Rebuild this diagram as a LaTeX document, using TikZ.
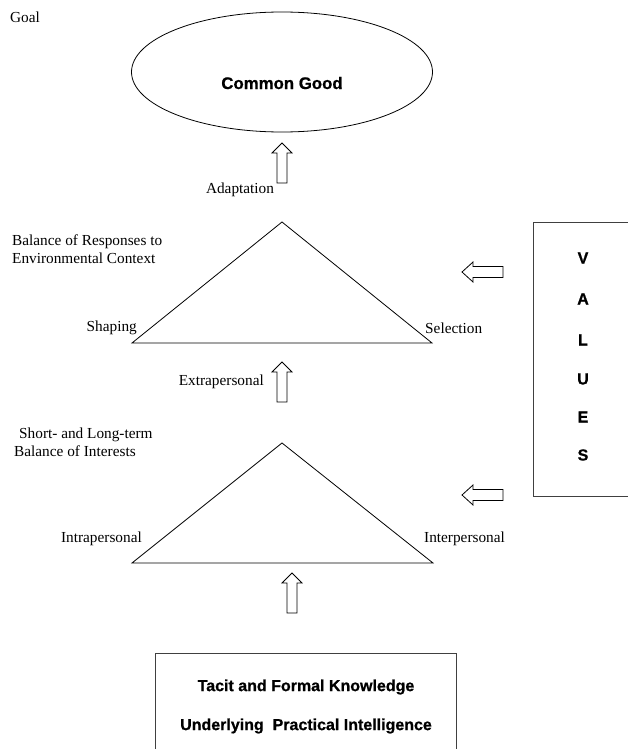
\documentclass[tikz,border=0pt]{standalone}
\usepackage{fontspec}
\setmainfont{Liberation Serif}
\setsansfont{Liberation Sans}
\newfontfamily\heavysans[FakeBold=0.8]{Liberation Sans Bold}
\usetikzlibrary{shapes.geometric}
\begin{document}
\begin{tikzpicture}[x=1pt,y=-1pt,
  lbl/.style={font=\fontsize{15.3}{18}\selectfont, inner sep=0pt},
  bsans/.style={font=\heavysans\fontsize{16}{19}\selectfont, inner sep=0pt},
  shapeline/.style={draw=black, line width=0.8pt},
  boxline/.style={draw=black!75, line width=1.1pt},
  blockarrow/.style={draw=black, line width=0.8pt, fill=white},
  uparr/.pic={\draw[blockarrow] (-5,40) -- (-5,10) -- (-10,10) -- (0,0) -- (10,10) -- (5,10) -- (5,40) -- cycle;},
  leftarr/.pic={\draw[blockarrow] (41,-5.5) -- (11,-5.5) -- (11,-10) -- (0,0) -- (11,10) -- (11,5.5) -- (41,5.5) -- cycle;}
]
\useasboundingbox (0,0) rectangle (627,749);
\fill[white] (0,0) rectangle (627,749);

% goal ellipse
\node[shapeline, ellipse, minimum width=301pt, minimum height=120pt, inner sep=0pt] (goal) at (282,72) {};
\node[bsans, font=\heavysans\fontsize{16.8}{20}\selectfont] (cg) at (282,83) {Common Good};
\node[lbl, anchor=west] (goallbl) at (10,17) {Goal};

% adaptation arrow
\pic (adapt) at (282,143) {uparr};
\node[lbl] (adaptlbl) at (240,190) {Adaptation};

% top triangle
\coordinate (t1a) at (282,222);
\coordinate (t1l) at (132,343);
\coordinate (t1r) at (432,343);
\draw[shapeline] (t1a) -- (t1l) -- (t1r) -- cycle;
\node[lbl, anchor=west, align=left] (resp) at (12,249) {Balance of Responses to\\Environmental Context};
\node[lbl, anchor=east] (shaping) at (137,328) {Shaping};
\node[lbl, anchor=west] (selection) at (425,328) {Selection};

% extrapersonal arrow
\pic (extra) at (282,362) {uparr};
\node[lbl, anchor=east] (extralbl) at (264,382) {Extrapersonal};

% bottom triangle
\coordinate (t2a) at (282,443);
\coordinate (t2l) at (132,563);
\coordinate (t2r) at (433,563);
\draw[shapeline] (t2a) -- (t2l) -- (t2r) -- cycle;
\node[lbl, anchor=west, align=left] (interests) at (14,442) {\hspace{5pt}Short- and Long-term\\Balance of Interests};
\node[lbl, anchor=east] (intra) at (142,539) {Intrapersonal};
\node[lbl, anchor=west] (inter) at (424,539) {Interpersonal};

% bottom arrow
\pic (base) at (292,573) {uparr};

% values arrows
\pic (v1) at (462,272) {leftarr};
\pic (v2) at (462,495) {leftarr};

% values box
\node[boxline, anchor=north west, minimum width=110pt, minimum height=274pt, inner sep=0pt] (values) at (533,222) {};
\node[bsans] (lv) at (583,258) {V};
\node[bsans] (la) at (583,299) {A};
\node[bsans] (ll) at (583,340) {L};
\node[bsans] (lu) at (583,379) {U};
\node[bsans] (le) at (583,417) {E};
\node[bsans] (ls) at (583,455) {S};

% knowledge box
\node[boxline, anchor=north west, minimum width=301pt, minimum height=120pt, inner sep=0pt] (know) at (155,653) {};
\node[bsans] (k1) at (306,687) {Tacit and Formal Knowledge};
\node[bsans] (k2) at (306,726) {Underlying\ \ Practical Intelligence};
\end{tikzpicture}
\end{document}
